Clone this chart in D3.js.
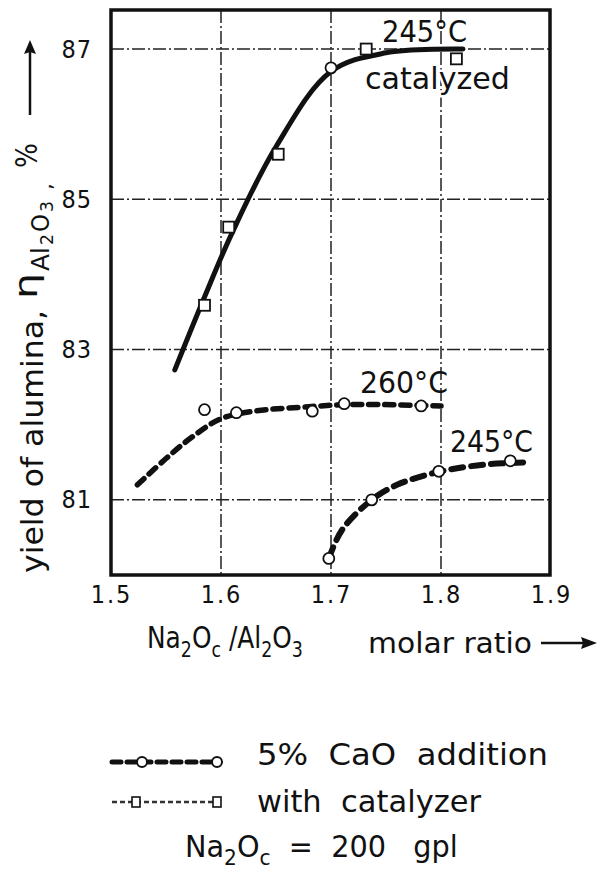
<!DOCTYPE html>
<html>
<head>
<meta charset="utf-8">
<script src="https://cdn.jsdelivr.net/npm/d3@7"></script>
<style>
  body { margin: 0; background: #fff; }
  svg { display: block; }
  text { fill: #111; font-family: "DejaVu Sans", sans-serif; white-space: pre; }
  .tick { font-family: "Liberation Sans Narrow", "DejaVu Sans Condensed", "DejaVu Sans", sans-serif; font-stretch: condensed; }
</style>
</head>
<body>
<svg id="chart" width="600" height="873"></svg>
<script>
// tick values
const xTicks = [1.5, 1.6, 1.7, 1.8, 1.9];
const yTicks = [81, 83, 85, 87];
const xGrid = [1.6, 1.7, 1.8];

// 245 C with catalyzer: fitted curve + measured squares (and one circle)
const catCurveX = [1.558, 1.585, 1.61, 1.65, 1.70, 1.75, 1.82];
const catCurveY = [82.73, 83.70, 84.55, 85.70, 86.70, 86.95, 87.00];
const catSquareX = [1.585, 1.607, 1.652, 1.732, 1.814];
const catSquareY = [83.59, 84.63, 85.60, 87.00, 86.87];
const catCircleX = [1.70];
const catCircleY = [86.75];

// 260 C, 5% CaO addition
const c260CurveX = [1.524, 1.55, 1.575, 1.60, 1.63, 1.68, 1.72, 1.80];
const c260CurveY = [81.20, 81.55, 81.85, 82.08, 82.18, 82.24, 82.27, 82.25];
const c260PointX = [1.585, 1.614, 1.683, 1.712, 1.782];
const c260PointY = [82.20, 82.16, 82.18, 82.28, 82.25];

// 245 C, 5% CaO addition
const c245CurveX = [1.698, 1.71, 1.737, 1.76, 1.80, 1.84, 1.878];
const c245CurveY = [80.22, 80.60, 81.00, 81.20, 81.38, 81.47, 81.50];
const c245PointX = [1.698, 1.737, 1.798, 1.863];
const c245PointY = [80.22, 81.00, 81.38, 81.52];

const zip = (xs, ys) => xs.map((x, i) => ({ x: x, y: ys[i] }));

const svg = d3.select("#chart");
const pLeft = 111, pRight = 551, pTop = 10, pBottom = 575;

const x = d3.scaleLinear().domain([1.5, 1.9]).range([pLeft, pRight]);
const y = d3.scaleLinear().domain([80, 87.52]).range([pBottom, pTop]);

// grid (dash-dot)
const grid = svg.append("g")
    .attr("stroke", "#222")
    .attr("stroke-width", 1.5)
    .attr("stroke-dasharray", "13,3,2,3");
grid.selectAll("line.h").data(yTicks).join("line")
    .attr("x1", pLeft).attr("x2", pRight - 1)
    .attr("y1", d => y(d)).attr("y2", d => y(d));
grid.selectAll("line.v").data(xGrid).join("line")
    .attr("y1", pTop).attr("y2", pBottom)
    .attr("x1", d => x(d)).attr("x2", d => x(d));

// axes as tick labels only, frame drawn separately
const xAxis = svg.append("g")
    .attr("transform", `translate(0,${pBottom})`)
    .call(d3.axisBottom(x).tickValues(xTicks).tickSize(0).tickPadding(28).tickFormat(d3.format(".1f")));
xAxis.select(".domain").remove();
xAxis.selectAll("text").attr("class", "tick").attr("font-size", 25).attr("fill", "#111")
    .attr("dy", 0).attr("letter-spacing", 2);

const yAxis = svg.append("g")
    .attr("transform", `translate(${pLeft},0)`)
    .call(d3.axisLeft(y).tickValues(yTicks).tickSize(0).tickPadding(19));
yAxis.select(".domain").remove();
yAxis.selectAll("text").attr("class", "tick").attr("font-size", 25).attr("fill", "#111").attr("letter-spacing", 1);

svg.append("rect")
    .attr("x", pLeft).attr("y", pTop)
    .attr("width", pRight - 1 - pLeft).attr("height", pBottom - pTop)
    .attr("fill", "none").attr("stroke", "#111").attr("stroke-width", 3.5);

// curves
const line = d3.line().x(d => x(d.x)).y(d => y(d.y)).curve(d3.curveCatmullRom.alpha(0.5));

svg.append("path").datum(zip(catCurveX, catCurveY))
    .attr("d", line).attr("fill", "none")
    .attr("stroke", "#111").attr("stroke-width", 5).attr("stroke-linecap", "round");

svg.append("path").datum(zip(c260CurveX, c260CurveY))
    .attr("d", line).attr("fill", "none")
    .attr("stroke", "#111").attr("stroke-width", 5.5)
    .attr("stroke-dasharray", "9,7").attr("stroke-linecap", "round");

svg.append("path").datum(zip(c245CurveX, c245CurveY))
    .attr("d", line).attr("fill", "none")
    .attr("stroke", "#111").attr("stroke-width", 6)
    .attr("stroke-dasharray", "12,8").attr("stroke-linecap", "round");

// markers
const circles = zip(c260PointX, c260PointY).concat(zip(c245PointX, c245PointY), zip(catCircleX, catCircleY));
svg.append("g").selectAll("circle").data(circles).join("circle")
    .attr("cx", d => x(d.x)).attr("cy", d => y(d.y)).attr("r", 5.5)
    .attr("fill", "#fff").attr("stroke", "#111").attr("stroke-width", 1.8);

const sq = 11;
svg.append("g").selectAll("rect").data(zip(catSquareX, catSquareY)).join("rect")
    .attr("x", d => x(d.x) - sq / 2).attr("y", d => y(d.y) - sq / 2)
    .attr("width", sq).attr("height", sq)
    .attr("fill", "#fff").attr("stroke", "#111").attr("stroke-width", 1.8);

// label helpers
function label(g, str, px, py, size, len) {
    const t = g.append("text").attr("x", px).attr("y", py).attr("font-size", size).text(str);
    if (len) t.attr("textLength", len).attr("lengthAdjust", "spacingAndGlyphs");
    return t;
}

// runs: [text, isSub]; squeezed horizontally to the given width
function richText(g, runs, px, py, size, width, shift) {
    const t = g.append("text").attr("font-size", size);
    let off = 0;
    runs.forEach(([s, sub]) => {
        const want = sub ? shift : 0;
        t.append("tspan").attr("dy", want - off)
            .attr("font-size", sub ? size * 0.7 : size).text(s);
        off = want;
    });
    const w = t.node().getComputedTextLength();
    t.attr("transform", `translate(${px},${py}) scale(${width / w},1)`);
    return t;
}

// curve labels
label(svg, "245°C", 382, 42, 30, 85);
label(svg, "catalyzed", 365, 89, 30, 145)
    .attr("stroke", "#fff").attr("stroke-width", 5).attr("paint-order", "stroke");
label(svg, "260°C", 360, 393, 30, 88);
label(svg, "245°C", 450, 452, 30, 83);

// y axis title (rotated)
const yt = svg.append("g").attr("transform", "translate(43,0) rotate(-90)");
label(yt, "yield of alumina,", -573, 0, 30, 263);
label(yt, "η", -299, -6, 32, 26);
label(yt, "Al", -271, 6, 25, 24);
label(yt, "2", -245, 10, 18, 11);
label(yt, "O", -232, 6, 25, 18);
label(yt, "3", -212, 10, 18, 11);
label(yt, ",", -190, 9, 22);
label(yt, "%", -168, -6, 30, 25);
yt.append("line").attr("x1", -115).attr("x2", -52).attr("y1", -13).attr("y2", -13)
    .attr("stroke", "#111").attr("stroke-width", 2.5);
yt.append("path").attr("d", "M-40,-13 L-54,-19 L-52,-13 L-54,-7 Z").attr("fill", "#111");

// x axis title
richText(svg, [["Na"], ["2", 1], ["O"], ["c", 1], [" /Al"], ["2", 1], ["O"], ["3", 1]],
    147, 648, 30, 156, 9);

label(svg, "molar ratio", 368, 653, 29, 164);
svg.append("line").attr("x1", 541).attr("x2", 584).attr("y1", 643).attr("y2", 643)
    .attr("stroke", "#111").attr("stroke-width", 2.5);
svg.append("path").attr("d", "M597,643 L581,637 L583,643 L581,649 Z").attr("fill", "#111");

// legend
const lg = svg.append("g");
lg.append("line").attr("x1", 112).attr("x2", 214).attr("y1", 762).attr("y2", 762)
    .attr("stroke", "#111").attr("stroke-width", 5).attr("stroke-dasharray", "9,6").attr("stroke-linecap", "round");
lg.selectAll("circle").data([142, 217]).join("circle")
    .attr("cx", d => d).attr("cy", 762).attr("r", 5)
    .attr("fill", "#fff").attr("stroke", "#111").attr("stroke-width", 2);
lg.append("line").attr("x1", 112).attr("x2", 214).attr("y1", 802).attr("y2", 802)
    .attr("stroke", "#333").attr("stroke-width", 2.5).attr("stroke-dasharray", "5,3");
lg.selectAll("rect").data([136, 217]).join("rect")
    .attr("x", d => d - 4).attr("y", 797).attr("width", 8).attr("height", 10)
    .attr("fill", "#fff").attr("stroke", "#111").attr("stroke-width", 1.6);

label(lg, "5%  CaO  addition", 257, 765, 30, 291);
label(lg, "with  catalyzer", 257, 812, 30, 224);

richText(lg, [["Na"], ["2", 1], ["O"], ["c", 1], ["  =  200   gpl"]], 185, 857, 30, 273, 8);
</script>
</body>
</html>
